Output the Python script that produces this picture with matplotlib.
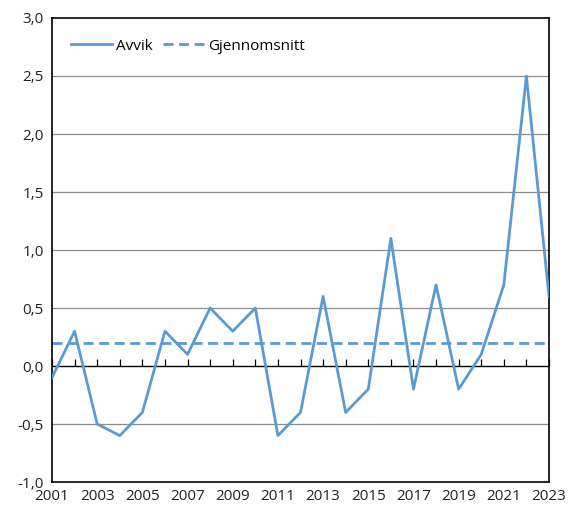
import matplotlib
matplotlib.use("Agg")
import matplotlib.pyplot as plt
from matplotlib.ticker import FuncFormatter

plt.rcParams['font.family'] = ['Open Sans', 'DejaVu Sans']

years = list(range(2001, 2024))
avvik = [-0.1, 0.3, -0.5, -0.6, -0.4, 0.3, 0.1, 0.5, 0.3, 0.5, -0.6, -0.4, 0.6,
         -0.4, -0.2, 1.1, -0.2, 0.7, -0.2, 0.1, 0.7, 2.5, 0.6]
mean_val = 0.2
xtick_labels = [str(y) for y in range(2001, 2024, 2)]
yticks = [-1.0, -0.5, 0.0, 0.5, 1.0, 1.5, 2.0, 2.5, 3.0]

color = '#5B9BD5'

fig = plt.figure(figsize=(5.68, 5.08), dpi=100)
ax = fig.add_axes([52/568, 26/508, 497/568, 464/508])

for yv in yticks[1:-1]:
    ax.axhline(yv, color='black' if yv == 0 else '#8c8c8c', lw=1.0 if yv == 0 else 0.9, zorder=1)

ax.plot(years, avvik, color=color, lw=2.0, label='Avvik', zorder=3)
ax.plot([years[0], years[-1]], [mean_val, mean_val], color=color, lw=2.0,
        ls=(0, (3.6, 2.0)), label='Gjennomsnitt', zorder=2)

ax.set_xlim(years[0], years[-1])
ax.set_ylim(-1.0, 3.0)
ax.set_yticks(yticks)
ax.yaxis.set_major_formatter(FuncFormatter(lambda v, p: f"{v:.1f}".replace('.', ',')))
ax.set_xticks(list(range(2001, 2024, 2)))
ax.set_xticklabels(xtick_labels)
ax.tick_params(axis='both', length=0, labelsize=11, colors='#222222', pad=6)
ax.tick_params(axis='x', pad=5)

for s in ax.spines.values():
    s.set_linewidth(1.2)
    s.set_color('black')

sec = ax.secondary_xaxis(0.25)
sec.set_xticks(years)
sec.set_xticklabels([])
sec.tick_params(direction='in', length=5, width=0.9, colors='black')
sec.spines['bottom'].set_visible(False)

leg = ax.legend(loc='upper left', ncol=2, frameon=False, fontsize=11,
                handlelength=2.7, handletextpad=0.25, columnspacing=0.7,
                bbox_to_anchor=(0.01, 0.985))

fig.savefig('out.png', dpi=100)
